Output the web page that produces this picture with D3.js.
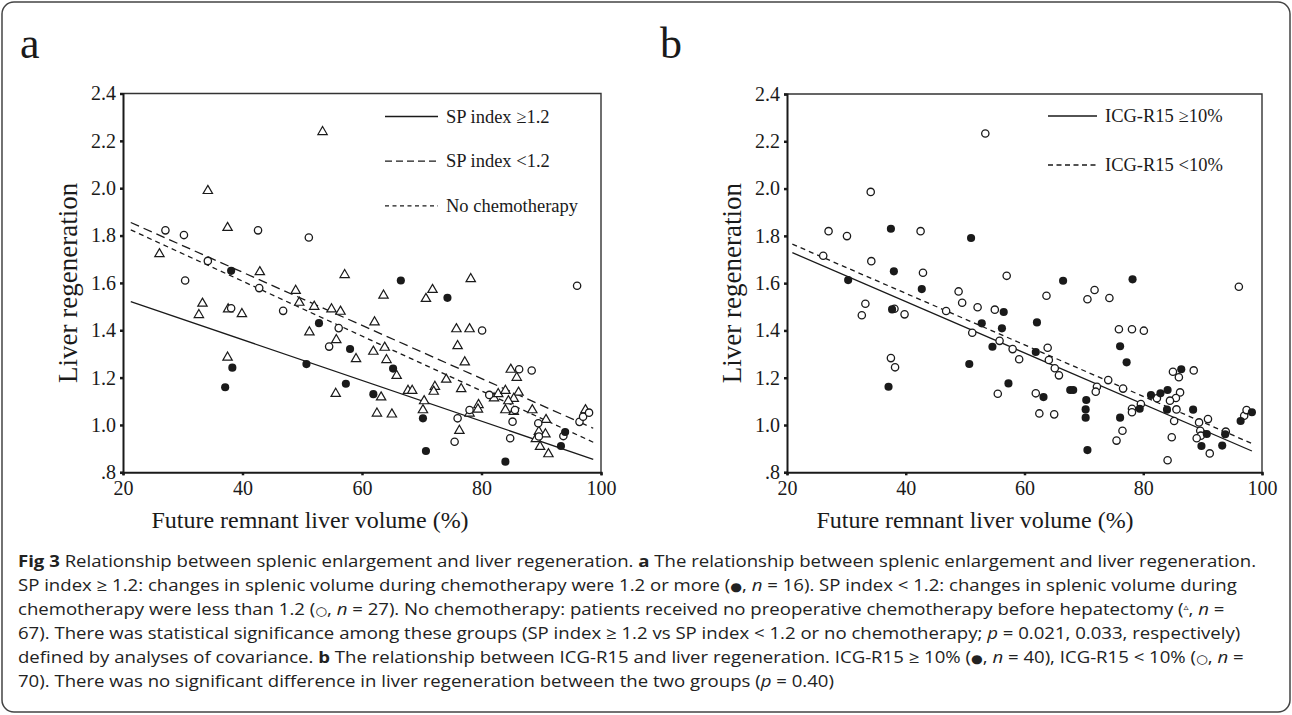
<!DOCTYPE html>
<html>
<head>
<meta charset="utf-8">
<script src="https://cdn.jsdelivr.net/npm/d3@7"></script>
<style>
  body { margin: 0; background: #fff; }
  svg { display: block; }
</style>
</head>
<body>
<svg id="fig" width="1292" height="715"></svg>
<script>
// ---- data (panel a) ----
const spHigh = [[38.1,1.651],[52.8,1.430],[58.0,1.321],[38.3,1.242],[37.1,1.159],[50.7,1.257],[57.3,1.174],[66.5,1.610],
  [74.3,1.537],[65.2,1.238],[61.9,1.130],[70.2,1.028],[70.7,0.890],[84.0,0.845],[93.3,0.911],[94.0,0.970]];
const spLow = [[27.1,1.822],[30.2,1.802],[34.2,1.693],[42.6,1.822],[51.1,1.792],[30.4,1.610],[38.1,1.493],[42.8,1.578],
  [46.8,1.482],[56.1,1.409],[54.5,1.331],[96.0,1.588],[80.1,1.399],[81.3,1.127],[86.3,1.235],[88.4,1.230],[78.0,1.063],
  [76.0,1.028],[75.5,0.929],[85.6,1.063],[85.2,1.014],[84.8,0.944],[89.5,1.007],[89.6,0.951],[93.7,0.953],[96.4,1.013],
  [97.0,1.035],[98.0,1.052]];
const noChemo = [[26.1,1.722],[34.2,1.989],[37.5,1.833],[42.9,1.646],[53.4,2.238],[57.1,1.634],[33.3,1.513],[32.7,1.465],
  [37.6,1.489],[39.9,1.469],[48.9,1.567],[49.5,1.517],[52.0,1.500],[54.9,1.489],[56.4,1.479],[51.2,1.392],[55.7,1.359],
  [37.5,1.285],[55.6,1.132],[78.2,1.617],[63.6,1.547],[71.8,1.571],[70.7,1.533],[62.1,1.434],[75.8,1.405],[78.0,1.405],
  [76.0,1.334],[61.9,1.310],[63.8,1.327],[59.0,1.279],[64.1,1.275],[65.8,1.208],[77.2,1.265],[74.1,1.192],[63.2,1.117],
  [67.7,1.145],[68.4,1.145],[72.2,1.162],[72.0,1.141],[76.6,1.152],[82.1,1.113],[82.8,1.131],[84.0,1.145],[84.9,1.234],
  [85.9,1.200],[86.2,1.137],[85.4,1.111],[84.5,1.101],[70.4,1.101],[70.2,1.063],[62.5,1.049],[65.0,1.045],[78.0,1.049],
  [79.5,1.085],[79.4,1.066],[76.3,0.976],[84.0,1.063],[85.4,1.056],[88.5,1.063],[90.8,1.022],[89.6,0.972],[90.7,0.961],
  [89.1,0.941],[89.8,0.908],[91.2,0.877],[97.4,1.063]];
// fitted lines (end points)
const fitSpHigh = [[21.3,1.521],[98.7,0.855]];
const fitSpLow = [[21.3,1.855],[98.7,0.986]];
const fitNoChemo = [[21.3,1.824],[98.7,0.927]];

// ---- data (panel b) ----
const icgHigh = [[37.5,1.830],[51.0,1.791],[38.0,1.650],[30.3,1.613],[37.7,1.489],[42.7,1.575],[56.5,1.478],[52.8,1.430],
  [56.2,1.409],[54.6,1.331],[37.1,1.162],[50.7,1.258],[57.3,1.176],[66.5,1.610],[78.2,1.616],[62.1,1.434],[76.1,1.333],
  [61.9,1.309],[77.2,1.265],[63.2,1.118],[67.7,1.148],[68.2,1.148],[81.3,1.127],[82.9,1.134],[84.1,1.148],[86.4,1.236],
  [70.4,1.106],[70.3,1.066],[70.3,1.031],[79.4,1.069],[76.1,1.031],[70.6,0.894],[84.0,1.065],[88.4,1.065],[90.7,0.962],
  [89.8,0.911],[93.3,0.913],[93.8,0.961],[96.4,1.017],[98.3,1.054]];
const icgLow = [[53.4,2.233],[34.1,1.986],[27.0,1.820],[30.1,1.799],[42.5,1.820],[26.1,1.716],[34.2,1.693],[42.9,1.644],
  [57.0,1.631],[33.2,1.513],[32.6,1.464],[38.1,1.492],[39.8,1.468],[48.9,1.565],[49.5,1.517],[52.1,1.498],[46.8,1.482],
  [55.0,1.488],[51.2,1.390],[55.8,1.356],[37.5,1.283],[38.2,1.244],[55.5,1.132],[96.1,1.585],[63.7,1.547],[71.8,1.571],
  [70.6,1.532],[74.3,1.537],[75.9,1.405],[78.1,1.405],[80.1,1.399],[63.9,1.327],[58.0,1.321],[59.1,1.278],[64.1,1.275],
  [65.1,1.240],[65.8,1.210],[74.1,1.190],[61.9,1.134],[72.2,1.162],[72.0,1.141],[76.6,1.154],[82.3,1.113],[85.0,1.225],
  [86.0,1.202],[88.5,1.231],[86.2,1.138],[85.5,1.114],[84.5,1.103],[62.5,1.049],[65.0,1.045],[78.1,1.069],[78.1,1.054],
  [79.6,1.089],[76.5,0.976],[75.5,0.934],[85.6,1.066],[85.2,1.017],[84.8,0.948],[84.1,0.851],[89.4,1.011],[90.9,1.025],
  [89.6,0.976],[89.7,0.955],[89.0,0.944],[91.2,0.880],[93.9,0.972],[97.0,1.039],[97.4,1.063]];
const fitIcgHigh = [[20.9,1.729],[98.3,0.890]];
const fitIcgLow = [[20.9,1.765],[98.65,0.918]];

const xTicks = [20, 40, 60, 80, 100];
const yTicks = [0.8, 1.0, 1.2, 1.4, 1.6, 1.8, 2.0, 2.2, 2.4];

const svg = d3.select("#fig");
const serif = "'Liberation Serif', 'Times New Roman', serif";
const ink = "#1a1a1a";

// outer frame
svg.append("rect")
  .attr("x", 2).attr("y", 2).attr("width", 1288).attr("height", 710)
  .attr("rx", 12).attr("ry", 12)
  .attr("fill", "none").attr("stroke", "#444").attr("stroke-width", 1.5);

function drawPanel(p) {
  const x = d3.scaleLinear().domain([20, 100]).range([p.left, p.right]);
  const y = d3.scaleLinear().domain([0.8, 2.4]).range([p.bottom, p.top]);
  const g = svg.append("g");

  // panel letter
  g.append("text")
    .attr("x", p.letterX).attr("y", 58)
    .text(p.letter)
    .style("font", `44px ${serif}`).style("fill", ink);

  // frame top/right
  g.append("path")
    .attr("d", `M${p.left},${p.top}H${p.right}V${p.bottom}`)
    .attr("fill", "none").attr("stroke", "#333").attr("stroke-width", 1.4);

  const yAxis = g.append("g")
    .attr("transform", `translate(${p.left},0)`)
    .call(d3.axisLeft(y).tickValues(yTicks).tickSize(3).tickPadding(4)
      .tickFormat(d => d === 0.8 ? ".8" : d3.format(".1f")(d)));
  const xAxis = g.append("g")
    .attr("transform", `translate(0,${p.bottom})`)
    .call(d3.axisBottom(x).tickValues(xTicks).tickSize(3).tickPadding(6));
  [xAxis, yAxis].forEach(a => {
    a.select(".domain").attr("stroke", ink).attr("stroke-width", 2);
    a.selectAll(".tick line").attr("stroke", ink).attr("stroke-width", 2.5);
    a.selectAll("text").style("font", `20px ${serif}`).style("fill", ink);
  });

  // axis titles
  g.append("text")
    .attr("transform", `translate(${p.left - 46},${(p.top + p.bottom) / 2}) rotate(-90)`)
    .attr("text-anchor", "middle")
    .text("Liver regeneration")
    .style("font", `27px ${serif}`).style("fill", ink);
  g.append("text")
    .attr("x", p.titleX).attr("y", 528)
    .attr("text-anchor", "middle")
    .text("Future remnant liver volume (%)")
    .style("font", `24px ${serif}`).style("fill", ink);

  // fit lines
  const line = d3.line().x(d => x(d[0])).y(d => y(d[1]));
  p.fits.forEach(f => {
    g.append("path").attr("d", line(f.pts))
      .attr("fill", "none").attr("stroke", ink).attr("stroke-width", 1.3)
      .attr("stroke-dasharray", f.dash);
  });

  // points
  p.groups.forEach(gr => {
    const sel = g.append("g").selectAll("path").data(gr.pts).join("path")
      .attr("transform", d => `translate(${x(d[0])},${y(d[1])})`);
    if (gr.shape === "filled") {
      sel.attr("d", d3.symbol(d3.symbolCircle, 52)).attr("fill", ink);
    } else if (gr.shape === "open") {
      sel.attr("d", d3.symbol(d3.symbolCircle, 42)).attr("fill", "#fff")
        .attr("stroke", ink).attr("stroke-width", 1.3);
    } else {
      sel.attr("d", d3.symbol(d3.symbolTriangle, 38)).attr("fill", "#fff")
        .attr("stroke", ink).attr("stroke-width", 1.2);
    }
  });

  // legend
  p.fits.forEach((f, i) => {
    const ly = p.legendY + i * p.legendGap;
    g.append("line")
      .attr("x1", p.legendX).attr("x2", p.legendX + p.legendLen)
      .attr("y1", ly).attr("y2", ly)
      .attr("stroke", ink).attr("stroke-width", 1.3)
      .attr("stroke-dasharray", f.legendDash);
    g.append("text")
      .attr("x", p.legendX + p.legendLen + 8).attr("y", ly + 6)
      .text(f.label)
      .style("font", `18.5px ${serif}`).style("fill", ink);
  });
}

drawPanel({
  letter: "a", letterX: 20,
  left: 123, right: 601, top: 93.5, bottom: 472.3, titleX: 310,
  fits: [
    { pts: fitSpHigh, dash: null, legendDash: null, label: "SP index \u22651.2" },
    { pts: fitSpLow, dash: "9,5", legendDash: "7,4", label: "SP index <1.2" },
    { pts: fitNoChemo, dash: "5,4", legendDash: "4,3.5", label: "No chemotherapy" }
  ],
  groups: [
    { pts: noChemo, shape: "tri" },
    { pts: spLow, shape: "open" },
    { pts: spHigh, shape: "filled" }
  ],
  legendX: 385, legendLen: 53, legendY: 116.5, legendGap: 44.7
});

drawPanel({
  letter: "b", letterX: 660,
  left: 787, right: 1262, top: 94, bottom: 472.3, titleX: 975,
  fits: [
    { pts: fitIcgHigh, dash: null, legendDash: null, label: "ICG-R15 \u226510%" },
    { pts: fitIcgLow, dash: "5,4", legendDash: "5,3.5", label: "ICG-R15 <10%" }
  ],
  groups: [
    { pts: icgLow, shape: "open" },
    { pts: icgHigh, shape: "filled" }
  ],
  legendX: 1048, legendLen: 49, legendY: 116, legendGap: 49
});

// ---- caption ----
const captionLines = [
  [["b", "Fig 3"], ["", " Relationship between splenic enlargement and liver regeneration. "], ["b", "a"], ["", " The relationship between splenic enlargement and liver regeneration."]],
  [["", "SP index \u2265 1.2: changes in splenic volume during chemotherapy were 1.2 or more ("], ["s", "\u25cf"], ["", ", "], ["i", "n"], ["", " = 16). SP index < 1.2: changes in splenic volume during"]],
  [["", "chemotherapy were less than 1.2 ("], ["s", "\u25cb"], ["", ", "], ["i", "n"], ["", " = 27). No chemotherapy: patients received no preoperative chemotherapy before hepatectomy ("], ["t", "\u25b5"], ["", ", "], ["i", "n"], ["", " ="]],
  [["", "67). There was statistical significance among these groups (SP index \u2265 1.2 vs SP index < 1.2 or no chemotherapy; "], ["i", "p"], ["", " = 0.021, 0.033, respectively)"]],
  [["", "defined by analyses of covariance. "], ["b", "b"], ["", " The relationship between ICG-R15 and liver regeneration. ICG-R15 \u2265 10% ("], ["s", "\u25cf"], ["", ", "], ["i", "n"], ["", " = 40), ICG-R15 < 10% ("], ["s", "\u25cb"], ["", ", "], ["i", "n"], ["", " ="]],
  [["", "70). There was no significant difference in liver regeneration between the two groups ("], ["i", "p"], ["", " = 0.40)"]]
];

const cap = svg.append("g");
const capTexts = captionLines.map((parts, i) => {
  const t = cap.append("text")
    .attr("y", 567 + i * 24)
    .style("font-family", "'Open Sans', 'Noto Sans', sans-serif")
    .style("font-size", "16.5px")
    .style("fill", "#222");
  let shift = 0;
  parts.forEach(([kind, str]) => {
    const ts = t.append("tspan").text(str);
    let s = 0;
    if (kind === "b") ts.style("font-weight", "bold");
    if (kind === "i") ts.style("font-style", "italic");
    if (kind === "s") ts.style("font-family", "'DejaVu Sans', sans-serif").style("font-size", "12px");
    if (kind === "t") { ts.style("font-family", "'DejaVu Sans', sans-serif").style("font-size", "9px"); s = -5; }
    if (s - shift !== 0) ts.attr("dy", s - shift);
    shift = s;
  });
  return t;
});
// squeeze horizontally so line 1 spans the caption width
const w0 = capTexts[0].node().getComputedTextLength();
const sx = (1257 - 18) / w0;
capTexts.forEach(t => {
  const yy = +t.attr("y");
  t.attr("y", null).attr("transform", `translate(18,${yy}) scale(${sx},1)`);
});
</script>
</body>
</html>
